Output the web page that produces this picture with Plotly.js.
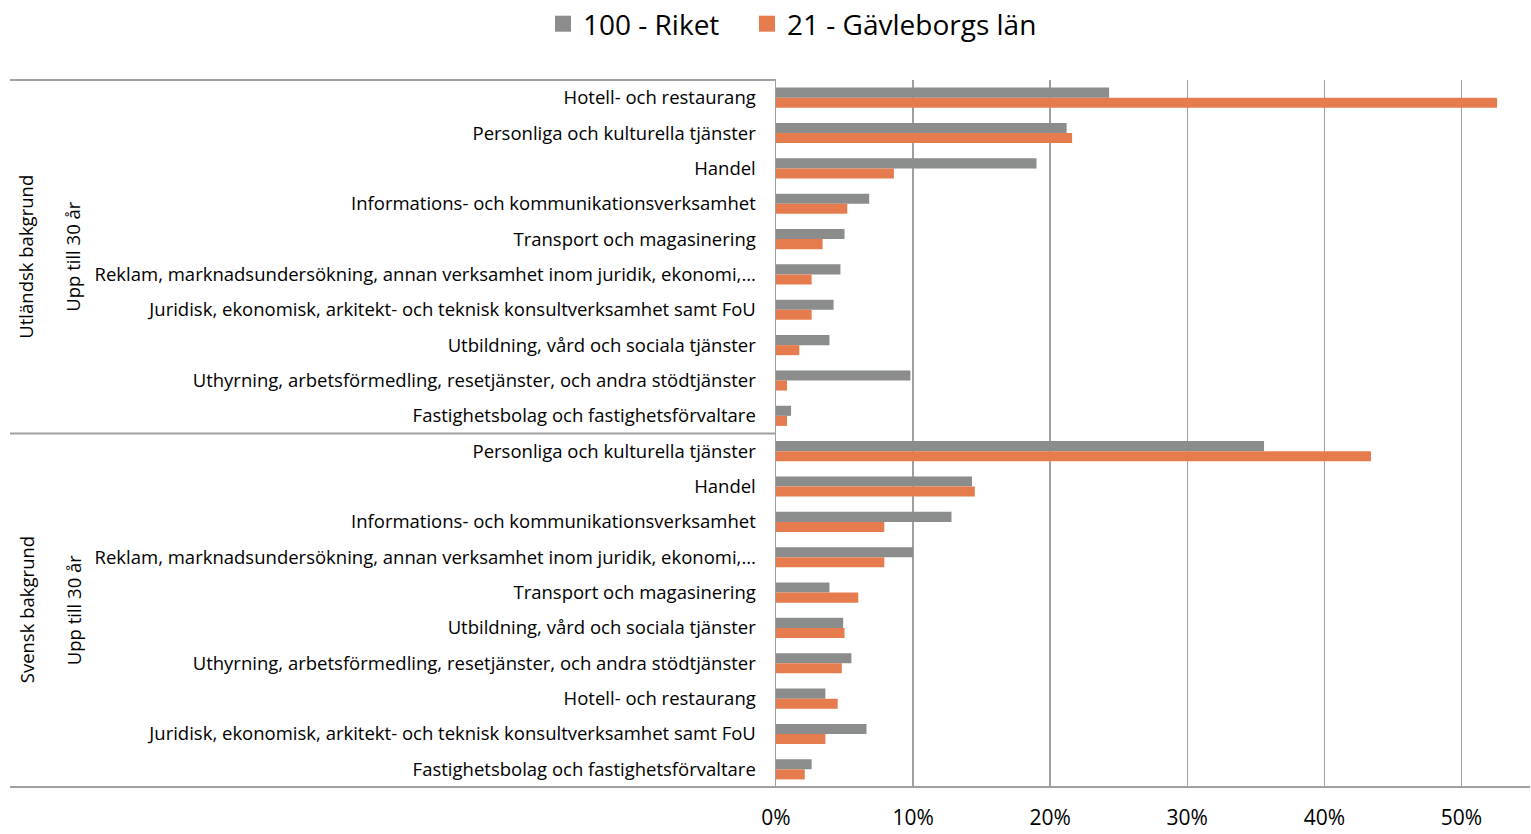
<!DOCTYPE html>
<html>
<head>
<meta charset="utf-8">
<script src="https://cdn.plot.ly/plotly-3.0.1.min.js"></script>
<style>html,body{margin:0;padding:0;background:#fff;}#chart{width:1531px;height:834px;}</style>
</head>
<body>
<div id="chart"></div>
<script>
// ---- data ----
const groupLabels = ["Utländsk bakgrund", "Svensk bakgrund"];
const ageLabel = "Upp till 30 år";
const categoriesUtl = [
  "Hotell- och restaurang",
  "Personliga och kulturella tjänster",
  "Handel",
  "Informations- och kommunikationsverksamhet",
  "Transport och magasinering",
  "Reklam, marknadsundersökning, annan verksamhet inom juridik, ekonomi,…",
  "Juridisk, ekonomisk, arkitekt- och teknisk konsultverksamhet samt FoU",
  "Utbildning, vård och sociala tjänster",
  "Uthyrning, arbetsförmedling, resetjänster, och andra stödtjänster",
  "Fastighetsbolag och fastighetsförvaltare"
];
const categoriesSve = [
  "Personliga och kulturella tjänster",
  "Handel",
  "Informations- och kommunikationsverksamhet",
  "Reklam, marknadsundersökning, annan verksamhet inom juridik, ekonomi,…",
  "Transport och magasinering",
  "Utbildning, vård och sociala tjänster",
  "Uthyrning, arbetsförmedling, resetjänster, och andra stödtjänster",
  "Hotell- och restaurang",
  "Juridisk, ekonomisk, arkitekt- och teknisk konsultverksamhet samt FoU",
  "Fastighetsbolag och fastighetsförvaltare"
];
const seriesNames = ["100 - Riket", "21 - Gävleborgs län"];
const riketUtl =  [0.243, 0.212, 0.190, 0.068, 0.050, 0.047, 0.042, 0.039, 0.098, 0.011];
const gavleUtl =  [0.526, 0.216, 0.086, 0.052, 0.034, 0.026, 0.026, 0.017, 0.008, 0.008];
const riketSve =  [0.356, 0.143, 0.128, 0.100, 0.039, 0.049, 0.055, 0.036, 0.066, 0.026];
const gavleSve =  [0.434, 0.145, 0.079, 0.079, 0.060, 0.050, 0.048, 0.045, 0.036, 0.021];
const xTicks = [0, 0.1, 0.2, 0.3, 0.4, 0.5];

// ---- build ----
const W = 1531, H = 834;
const M = {l: 776, r: 1, t: 80, b: 47};
const pw = W - M.l - M.r;
const px2paper = p => (p - M.l) / pw;

const labels = categoriesUtl.concat(categoriesSve);
const idx = labels.map((_, i) => i);
const riket = riketUtl.concat(riketSve);
const gavle = gavleUtl.concat(gavleSve);
const nU = categoriesUtl.length, nAll = labels.length;

const font = "'Open Sans', 'DejaVu Sans', sans-serif";
const grey = "#8a8d8b", orange = "#e67c4e", lineCol = "#a0a0a0";
const labSize = 18.5;

const traces = [
  {type: 'bar', orientation: 'h', name: seriesNames[0], y: idx, x: riket,
   marker: {color: grey}, showlegend: false},
  {type: 'bar', orientation: 'h', name: seriesNames[1], y: idx, x: gavle,
   marker: {color: orange}, showlegend: false},
  // legend entries (square swatches)
  {type: 'scatter', mode: 'markers', name: seriesNames[0], x: [null], y: [null],
   marker: {symbol: 'square', size: 16, color: grey}, showlegend: true, legend: 'legend'},
  {type: 'scatter', mode: 'markers', name: seriesNames[1], x: [null], y: [null],
   marker: {symbol: 'square', size: 16, color: orange}, showlegend: true, legend: 'legend2'}
];

const leftX = px2paper(10);
const legendBase = {orientation: 'h', xref: 'container', yref: 'container',
  xanchor: 'left', y: 1 - 24 / H, yanchor: 'middle', bgcolor: 'rgba(0,0,0,0)',
  font: {size: 28, family: font, color: '#000'}, itemwidth: 30};
const layout = {
  width: W, height: H,
  margin: M,
  paper_bgcolor: '#fff', plot_bgcolor: '#fff',
  font: {family: font, size: labSize, color: '#000'},
  barmode: 'group', bargap: 0.43, bargroupgap: 0,
  showlegend: true,
  legend: Object.assign({}, legendBase, {x: 543 / W}),
  legend2: Object.assign({}, legendBase, {x: 747 / W}),
  xaxis: {range: [0, 0.55], tickvals: xTicks, tickformat: '.0%',
          showgrid: true, gridcolor: lineCol, gridwidth: 1.5, zeroline: false,
          showline: false, ticks: 'outside', ticklen: 12, tickcolor: 'rgba(0,0,0,0)',
          tickfont: {size: 21, family: font}, fixedrange: true},
  yaxis: {range: [nAll - 0.5, -0.5], tickvals: idx, ticktext: labels,
          showgrid: false, zeroline: false, showline: true, linecolor: lineCol, linewidth: 1.5,
          ticks: 'outside', ticklen: 15, tickcolor: 'rgba(0,0,0,0)',
          tickfont: {size: labSize, family: font}, fixedrange: true},
  shapes: [
    {type: 'line', xref: 'paper', yref: 'paper', x0: leftX, x1: 0, y0: 1, y1: 1,
     line: {color: lineCol, width: 2}},
    {type: 'line', xref: 'paper', yref: 'y', x0: leftX, x1: 0, y0: nU - 0.5, y1: nU - 0.5,
     line: {color: lineCol, width: 2}},
    {type: 'line', xref: 'paper', yref: 'paper', x0: leftX, x1: 1, y0: 0, y1: 0,
     line: {color: lineCol, width: 2}}
  ],
  annotations: [
    {text: groupLabels[0], xref: 'paper', yref: 'y', x: px2paper(26), y: (nU - 1) / 2,
     xanchor: 'center', yanchor: 'middle',
     textangle: -90, showarrow: false, font: {size: labSize, family: font}},
    {text: ageLabel, xref: 'paper', yref: 'y', x: px2paper(73), y: (nU - 1) / 2,
     xanchor: 'center', yanchor: 'middle',
     textangle: -90, showarrow: false, font: {size: labSize, family: font}},
    {text: groupLabels[1], xref: 'paper', yref: 'y', x: px2paper(26), y: nU + (nAll - nU - 1) / 2,
     xanchor: 'center', yanchor: 'middle',
     textangle: -90, showarrow: false, font: {size: labSize, family: font}},
    {text: ageLabel, xref: 'paper', yref: 'y', x: px2paper(73), y: nU + (nAll - nU - 1) / 2,
     xanchor: 'center', yanchor: 'middle',
     textangle: -90, showarrow: false, font: {size: labSize, family: font}}
  ]
};

Plotly.newPlot('chart', traces, layout, {displayModeBar: false, staticPlot: true});
</script>
</body>
</html>
